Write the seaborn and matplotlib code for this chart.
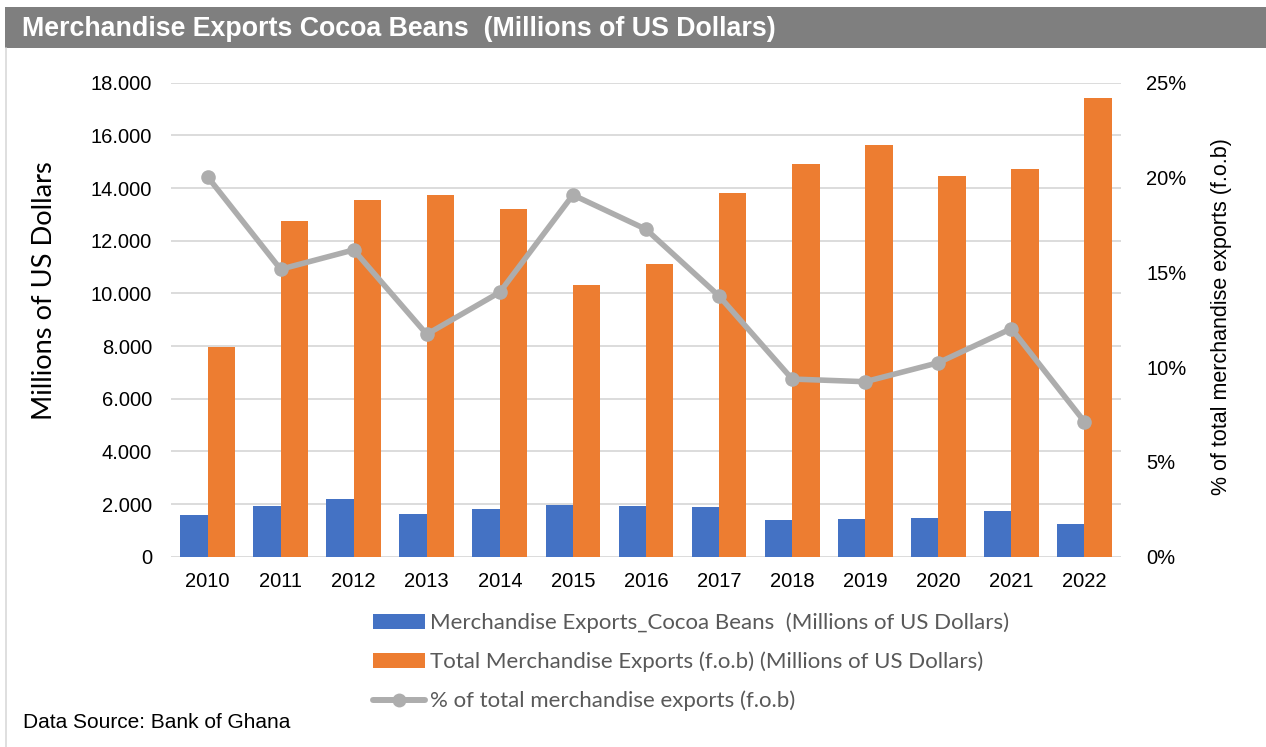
import matplotlib
matplotlib.use("Agg")
import matplotlib.pyplot as plt
import seaborn as sns
import pandas as pd
import numpy as np
from matplotlib.patches import Rectangle, Patch
from matplotlib.lines import Line2D
from matplotlib.ticker import FuncFormatter, MultipleLocator

years = ["2010", "2011", "2012", "2013", "2014", "2015", "2016",
         "2017", "2018", "2019", "2020", "2021", "2022"]
cocoa = [1595, 1935, 2190, 1603, 1820, 1973, 1908,
         1884, 1381, 1431, 1458, 1752, 1226]
total = [7975, 12760, 13548, 13750, 13205, 10319, 11129,
         13810, 14924, 15646, 14445, 14722, 17418]
share = [20.04, 15.16, 16.18, 11.73, 13.95, 19.08, 17.27,
         13.75, 9.37, 9.23, 10.23, 12.03, 7.12]

lab_cocoa = "Merchandise Exports_Cocoa Beans  (Millions of US Dollars)"
lab_total = "Total Merchandise Exports (f.o.b) (Millions of US Dollars)"
lab_share = "% of total merchandise exports (f.o.b)"

BLUE = "#4472C4"
ORANGE = "#ED7D31"
GRAY = "#ADADAD"

df = pd.DataFrame({
    "year": years * 2,
    "value": cocoa + total,
    "series": [lab_cocoa] * len(years) + [lab_total] * len(years),
})

sns.set_theme(style="white")
plt.rcParams["font.family"] = ["Liberation Sans", "DejaVu Sans"]

W, H = 1266, 747
fig = plt.figure(figsize=(W / 100, H / 100), dpi=100)
fig.patch.set_facecolor("white")

def fx(px):
    return px / W

def fy(py):
    return 1 - py / H

# title bar
fig.patches.append(Rectangle((fx(5), fy(48)), 1 - fx(5), (48 - 7) / H,
                             transform=fig.transFigure, facecolor="#7F7F7F",
                             edgecolor="none", zorder=0))
fig.add_artist(Line2D([fx(5.5), fx(5.5)], [0, fy(48)], transform=fig.transFigure,
                      color="#D9D9D9", lw=1.2))
fig.text(fx(22), fy(29), "Merchandise Exports Cocoa Beans  (Millions of US Dollars)",
         color="white", fontsize=19.3, fontweight="bold", va="center", ha="left")

left, right = 171, 1121
top, bottom = 82.7, 556.7
ax = fig.add_axes([fx(left), fy(bottom), (right - left) / W, (bottom - top) / H])

sns.barplot(data=df, x="year", y="value", hue="series", order=years,
            hue_order=[lab_cocoa, lab_total], palette=[BLUE, ORANGE],
            width=0.75, gap=0, linewidth=0, saturation=1, ax=ax, legend=False)
ax.set_xlim(-0.5, len(years) - 0.5)
ax.set_ylim(0, 18000)
ax.yaxis.set_major_locator(MultipleLocator(2000))
ax.yaxis.set_major_formatter(FuncFormatter(
    lambda v, p: "0" if v == 0 else f"{int(v):,}".replace(",", ".")))
ax.grid(axis="y", color="#D9D9D9", lw=1.3)
ax.grid(axis="x", visible=False)
ax.set_axisbelow(True)
for s in ax.spines.values():
    s.set_visible(False)
ax.tick_params(axis="y", length=0, pad=13.5, labelsize=14.5, labelcolor="#000000")
ax.tick_params(axis="x", length=0, pad=11, labelsize=14.5, labelcolor="#000000")
ax.set_xlabel("")
ax.set_ylabel("")

ax2 = ax.twinx()
sns.lineplot(x=np.arange(len(years)), y=share, ax=ax2, color=GRAY, lw=4,
             marker="o", markersize=10.5, markeredgewidth=0, legend=False)
ax2.set_ylim(0, 25)
ax2.yaxis.set_major_locator(MultipleLocator(5))
ax2.yaxis.set_major_formatter(FuncFormatter(lambda v, p: f"{int(v)}%"))
ax2.grid(False)
for s in ax2.spines.values():
    s.set_visible(False)
ax2.tick_params(axis="y", length=0, pad=18, labelsize=14.5, labelcolor="#000000")
ax2.set_ylabel("")
ax2.set_xlim(-0.5, len(years) - 0.5)

fig.text(fx(45), fy(291), "Millions of US Dollars", rotation=90, fontsize=19.6,
         family=["Lato", "DejaVu Sans"], ha="center", va="center", color="#000000")
fig.text(fx(1222), fy(317), lab_share, rotation=90, fontsize=15.5,
         ha="center", va="center", color="#000000")

handles = [Patch(facecolor=BLUE, edgecolor="none"),
           Patch(facecolor=ORANGE, edgecolor="none"),
           Line2D([0], [0], color=GRAY, lw=4.3, marker="o", markersize=10,
                  markeredgewidth=0)]
leg = fig.legend(handles, [lab_cocoa, lab_total, lab_share],
                 loc="upper left", bbox_to_anchor=(fx(364), fy(604)),
                 frameon=False, handlelength=2.34, handleheight=0.63,
                 handletextpad=0.22, labelspacing=0.82, borderaxespad=0,
                 prop={"family": ["Lato", "DejaVu Sans"], "size": 16})
for t in leg.get_texts():
    t.set_color("#595959")

fig.text(fx(23), fy(722), "Data Source: Bank of Ghana", fontsize=15,
         ha="left", va="center", color="#000000")

fig.savefig("out.png", dpi=100, facecolor="white")
